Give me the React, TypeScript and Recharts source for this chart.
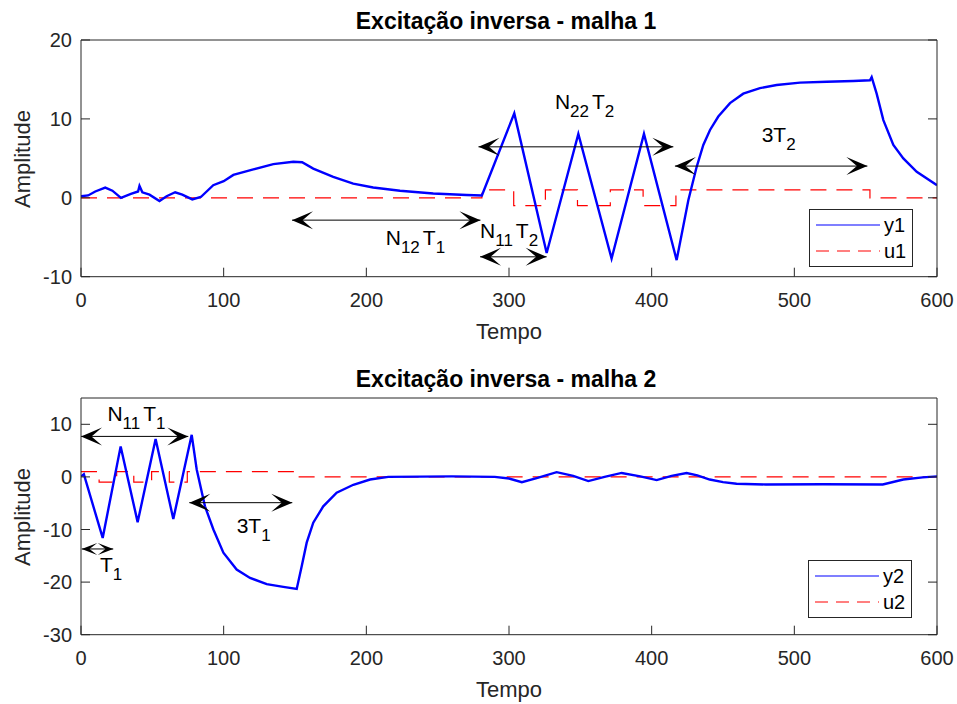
import React from 'react';
import { LineChart, Line, XAxis, YAxis, ReferenceLine, ReferenceDot, Legend } from 'recharts';

const FONT = '"Liberation Sans", Arial, Helvetica, sans-serif';
const AXIS = '#262626';

// ---------- tick values ----------
const timeTicks = [0, 100, 200, 300, 400, 500, 600];
const yTicks1 = [-10, 0, 10, 20];
const yTicks2 = [-30, -20, -10, 0, 10];

// ---------- titles ----------
const title1 = 'Excitação inversa - malha 1';
const title2 = 'Excitação inversa - malha 2';
const xLabel = 'Tempo';
const yLabel = 'Amplitude';

// ---------- malha 1 ----------
const y1Time = [0, 5, 10, 17, 22, 28, 35, 40, 41, 43, 48, 55, 60, 66, 71, 78, 84, 92.7, 100, 106.8, 120.8, 134.8, 148.8, 155, 162.8, 176.8, 190.8, 204.8, 223.6, 246.9, 270.3, 281,
  303.7, 326.4, 348.6, 371.9, 394.6, 417.5, 425.7, 431.5, 436.2, 440.9, 446.7, 454.9, 464.2, 475.9, 487.6, 504, 522.7, 541.3, 553, 554.2,
  557.7, 562.4, 569.4, 576.4, 585.8, 600];
const y1Value = [0.2, 0.3, 0.8, 1.3, 0.9, 0.0, 0.5, 0.8, 1.5, 0.7, 0.4, -0.4, 0.2, 0.7, 0.4, -0.2, 0.1, 1.6, 2.1, 2.9, 3.6, 4.27, 4.56, 4.5, 3.7, 2.66, 1.8, 1.3, 0.9, 0.55, 0.35, 0.3,
  10.7, -7.0, 8.1, -7.7, 8.1, -7.9, -0.3, 3.9, 6.7, 8.6, 10.3, 12.0, 13.2, 13.9, 14.3, 14.6, 14.7, 14.8, 14.9, 15.3,
  13.2, 9.85, 6.7, 5.0, 3.3, 1.6];
const u1Time = [0, 281, 303.3, 325.5, 348, 371, 394, 417, 553, 600];
const u1Value = [0, 1, -1, 1, -1, 1, -1, 1, 0, 0];

// ---------- malha 2 ----------
const y2Time = [0, 2, 15.2, 27.8, 39.7, 52.3, 64.7, 77.6, 81.1, 86.9, 92.8, 99.8, 109.1, 118.5, 130.2, 141.8, 151.2, 154.7, 158.2, 162.8, 169.8, 179.2, 190.9, 202.6, 215.4, 260, 290,
  300, 309, 320, 333.4, 345, 355.6, 367, 379, 392, 403.5, 414, 424.5, 432, 440.7, 450, 459.5, 480, 520, 562, 576.4, 590, 600];
const y2Value = [0.1, 0.5, -11.6, 5.8, -8.6, 7.2, -8.0, 8.0, 1.4, -5.6, -10.0, -14.4, -17.6, -19.2, -20.4, -20.9, -21.3, -17.0, -12.5, -8.7, -5.6, -3.0, -1.5, -0.5, 0.0, 0.1, 0.0,
  -0.3, -1.0, -0.2, 0.9, 0.2, -0.8, 0.0, 0.75, 0.1, -0.6, 0.2, 0.75, 0.3, -0.5, -1.0, -1.3, -1.45, -1.4, -1.45, -0.5, -0.1, 0.1];
const u2Time = [0, 12.7, 25.0, 37.0, 49.5, 61.9, 74.5, 150, 600];
const u2Value = [1, -1, 1, -1, 1, -1, 1, 0, 0];

// ---------- annotations (data coordinates) ----------
type Part = { s: string; sub?: boolean };
const arrows1 = [
  { x1: 147.9, x2: 280.0, y: -2.83, L: 21, W: 9 },
  { x1: 279.7, x2: 326.4, y: -7.48, L: 21, W: 9 },
  { x1: 278.6, x2: 415.2, y: 6.46, L: 21, W: 9 },
  { x1: 416.3, x2: 551.2, y: 4.02, L: 21, W: 9 },
];
const labels1: { x: number; y: number; parts: Part[] }[] = [
  { x: 213.6, y: -6.0, parts: [{ s: 'N' }, { s: '12', sub: true }, { s: 'T' }, { s: '1', sub: true }] },
  { x: 279.7, y: -5.15, parts: [{ s: 'N' }, { s: '11', sub: true }, { s: 'T' }, { s: '2', sub: true }] },
  { x: 332.2, y: 11.2, parts: [{ s: 'N' }, { s: '22', sub: true }, { s: 'T' }, { s: '2', sub: true }] },
  { x: 477.1, y: 7.1, parts: [{ s: '3T' }, { s: '2', sub: true }] },
];
const arrows2 = [
  { x1: 0, x2: 75.2, y: 7.7, L: 21, W: 9 },
  { x1: 0.5, x2: 22.6, y: -13.7, L: 15.5, W: 6 },
  { x1: 75.9, x2: 148.1, y: -4.9, L: 21, W: 9 },
];
const labels2: { x: number; y: number; parts: Part[] }[] = [
  { x: 18.5, y: 10.55, parts: [{ s: 'N' }, { s: '11', sub: true }, { s: 'T' }, { s: '1', sub: true }] },
  { x: 13.3, y: -18.0, parts: [{ s: 'T' }, { s: '1', sub: true }] },
  { x: 109.1, y: -10.6, parts: [{ s: '3T' }, { s: '1', sub: true }] },
];

const toData = (t: number[], v: number[]) => t.map((tt, i) => ({ t: tt, v: v[i] }));
const y1Data = toData(y1Time, y1Value);
const u1Data = toData(u1Time, u1Value);
const y2Data = toData(y2Time, y2Value);
const u2Data = toData(u2Time, u2Value);

// ---------- layout ----------
const W = 957;
const H = 352;
const PLOT_L = 81;
const PLOT_R = 937;
const PLOT_B = 276.7;
const CX = (PLOT_L + PLOT_R) / 2;

const makeArrow = (L: number, Wd: number) => (props: any) => {
  const { x1, y1, x2, y2 } = props;
  const ang = Math.atan2(y2 - y1, x2 - x1);
  const head = (tx: number, ty: number, dir: number) => {
    const ux = Math.cos(dir), uy = Math.sin(dir);
    const px = -uy, py = ux;
    const bx = tx + ux * L, by = ty + uy * L;
    const nx = tx + ux * L * 0.5, ny = ty + uy * L * 0.5;
    return `M${tx},${ty} L${bx + px * Wd},${by + py * Wd} L${nx},${ny} L${bx - px * Wd},${by - py * Wd} Z`;
  };
  return (
    <g>
      <line x1={x1} y1={y1} x2={x2} y2={y2} stroke="#000" strokeWidth={1} />
      <path d={head(x1, y1, ang)} fill="#000" />
      <path d={head(x2, y2, ang + Math.PI)} fill="#000" />
    </g>
  );
};

const makeText = (parts: Part[]) => (props: any) => {
  const { cx, cy } = props;
  let prevSub = false;
  return (
    <text x={cx} y={cy} fontFamily={FONT} fontSize={21} fill="#000">
      {parts.map((p, i) => {
        let dy = 0;
        let dx = 0;
        if (p.sub && !prevSub) dy = 8;
        if (!p.sub && prevSub) { dy = -8; dx = 3; }
        prevSub = !!p.sub;
        return (
          <tspan key={i} dx={dx} dy={dy} fontSize={p.sub ? 17 : 21}>{p.s}</tspan>
        );
      })}
    </text>
  );
};

const LegendBox = ({ names }: { names: string[] }) => (
  <div style={{ width: 104, height: 58, border: `1px solid ${AXIS}`, background: '#fff', boxSizing: 'border-box' }}>
    <svg width={102} height={56} style={{ display: 'block' }}>
      <line x1={6} x2={70} y1={15} y2={15} stroke="#0000ff" strokeWidth={1.2} />
      <line x1={6} x2={70} y1={41} y2={41} stroke="#ff0000" strokeWidth={1.2} strokeDasharray="13 8" />
      <text x={74} y={22} fontFamily={FONT} fontSize={20} fill="#000">{names[0]}</text>
      <text x={74} y={48} fontFamily={FONT} fontSize={20} fill="#000">{names[1]}</text>
    </svg>
  </div>
);

type PanelProps = {
  title: string;
  yData: { t: number; v: number }[];
  uData: { t: number; v: number }[];
  yDomain: [number, number];
  yTicks: number[];
  arrows: typeof arrows1;
  labels: typeof labels1;
  names: string[];
  legendPos: { left: number; top: number };
};

const Panel = ({ title, yData, uData, yDomain, yTicks, arrows, labels, names, legendPos }: PanelProps) => (
  <LineChart width={W} height={H} margin={{ top: 39, right: 19, bottom: H - PLOT_B - 60, left: 21 }}>
    <XAxis
      xAxisId="b" type="number" dataKey="t" domain={[0, 600]} ticks={timeTicks} interval={0}
      allowDataOverflow height={60} tickSize={-9} tickMargin={25} stroke={AXIS}
      tick={{ fill: AXIS, fontSize: 20, fontFamily: FONT }}
      label={{
        content: () => (
          <text x={CX} y={339.2} textAnchor="middle" fontFamily={FONT} fontSize={22} fill={AXIS}>{xLabel}</text>
        ),
      }}
    />
    <XAxis
      xAxisId="t" orientation="top" type="number" domain={[0, 600]} ticks={timeTicks} interval={0}
      allowDataOverflow height={1} tickSize={-9} stroke={AXIS} tickFormatter={() => ''}
      label={{
        content: () => (
          <text x={CX - 3} y={29.3} textAnchor="middle" fontFamily={FONT} fontSize={23} fontWeight="bold" fill="#000">{title}</text>
        ),
      }}
    />
    <YAxis
      yAxisId="l" type="number" domain={yDomain} ticks={yTicks} interval={0} allowDataOverflow
      width={60} tickSize={-9} tickMargin={18} stroke={AXIS}
      tick={{ fill: AXIS, fontSize: 20, fontFamily: FONT }}
      label={{
        content: () => (
          <text x={30} y={159} transform="rotate(-90 30 159)" textAnchor="middle" fontFamily={FONT} fontSize={22} fill={AXIS}>{yLabel}</text>
        ),
      }}
    />
    <YAxis
      yAxisId="r" orientation="right" type="number" domain={yDomain} ticks={yTicks} interval={0} allowDataOverflow
      width={1} tickSize={-9} stroke={AXIS} tickFormatter={() => ''}
    />
    <Line
      xAxisId="b" yAxisId="l" data={uData} dataKey="v" type="stepAfter" stroke="#ff0000"
      strokeWidth={1.2} strokeDasharray="16 10" dot={false} activeDot={false} isAnimationActive={false}
    />
    <Line
      xAxisId="b" yAxisId="l" data={yData} dataKey="v" type="linear" stroke="#0000ff"
      strokeWidth={2.4} dot={false} activeDot={false} isAnimationActive={false}
    />
    {arrows.map((a, i) => (
      <ReferenceLine
        key={`a${i}`} xAxisId="b" yAxisId="l" ifOverflow="visible"
        segment={[{ x: a.x1, y: a.y }, { x: a.x2, y: a.y }]}
        shape={makeArrow(a.L, a.W)}
      />
    ))}
    {labels.map((l, i) => (
      <ReferenceDot
        key={`l${i}`} xAxisId="b" yAxisId="l" ifOverflow="visible" x={l.x} y={l.y} r={0}
        shape={makeText(l.parts)}
      />
    ))}
    <Legend
      layout="vertical" align="center" verticalAlign="middle"
      wrapperStyle={{ left: legendPos.left, top: legendPos.top, width: 104, height: 58 }}
      content={() => <LegendBox names={names} />}
    />
  </LineChart>
);

export default function App() {
  return (
    <div style={{ position: 'absolute', left: 0, top: 0, width: 957, height: 704, background: '#fff' }}>
      <div style={{ position: 'absolute', left: 0, top: 0 }}>
        <Panel
          title={title1} yData={y1Data} uData={u1Data} yDomain={[-10, 20]} yTicks={yTicks1}
          arrows={arrows1} labels={labels1} names={['y1', 'u1']} legendPos={{ left: 809, top: 209 }}
        />
      </div>
      <div style={{ position: 'absolute', left: 0, top: 358.3 }}>
        <Panel
          title={title2} yData={y2Data} uData={u2Data} yDomain={[-30, 15]} yTicks={yTicks2}
          arrows={arrows2} labels={labels2} names={['y2', 'u2']} legendPos={{ left: 808, top: 201.7 }}
        />
      </div>
    </div>
  );
}
